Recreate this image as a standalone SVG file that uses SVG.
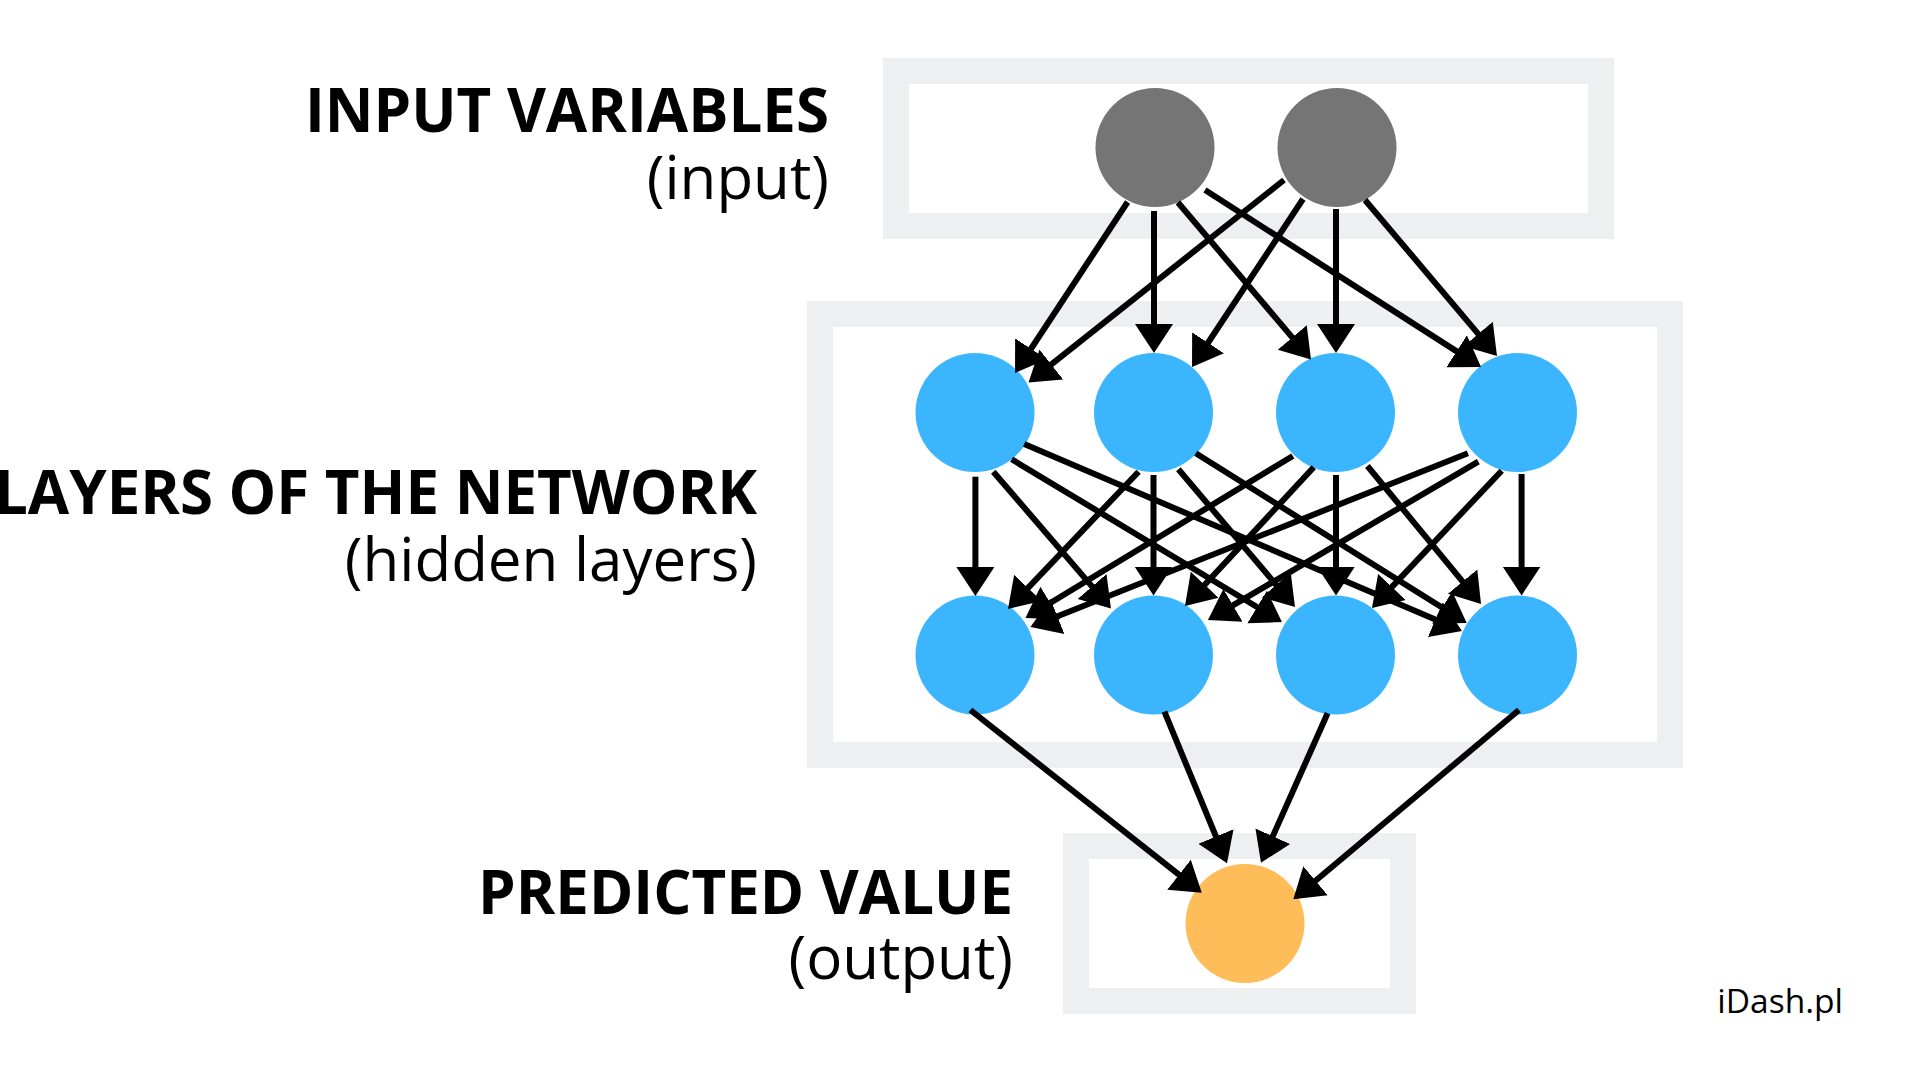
<svg xmlns="http://www.w3.org/2000/svg" width="1920" height="1080" viewBox="0 0 1920 1080">
<style>
.box{fill:none;stroke:#EEEFF1;stroke-width:26}
.in{fill:#757575}
.hid{fill:#3BB6FE}
.out{fill:#FEBD59}
.e{stroke:#000;stroke-width:6;fill:none;marker-end:url(#ah)}
.t1{font-family:"Open Sans","Liberation Sans",sans-serif;font-weight:700;font-size:60px;fill:#000;text-anchor:end}
.t2{font-family:"Open Sans","Liberation Sans",sans-serif;font-weight:400;font-size:60px;fill:#000;text-anchor:end}
.wm{font-family:"Open Sans","Liberation Sans",sans-serif;font-size:33.5px;fill:#000;text-anchor:end}
</style>
<defs>
<marker id="ah" markerUnits="userSpaceOnUse" markerWidth="30" markerHeight="40" viewBox="0 0 30 40" refX="14" refY="20" orient="auto">
<path d="M0,1 L29,20 L0,39 z" fill="#000"/>
</marker>
</defs>
<rect width="1920" height="1080" fill="#fff"/>
<g id="layer-boxes">
<rect id="box-input" class="box" x="896" y="71" width="705" height="155"/>
<rect id="box-hidden" class="box" x="820" y="314" width="850" height="441"/>
<rect id="box-output" class="box" x="1076" y="846" width="327" height="155"/>
</g>
<g id="labels">
<g id="label-input"><text class="t1" x="829" y="132">INPUT VARIABLES</text><text class="t2" x="829" y="199">(input)</text></g>
<g id="label-hidden"><text class="t1" x="757" y="514">LAYERS OF THE NETWORK</text><text class="t2" x="757" y="581">(hidden layers)</text></g>
<g id="label-output"><text class="t1" x="1013" y="914">PREDICTED VALUE</text><text class="t2" x="1013" y="979">(output)</text></g>
</g>
<g id="nodes">
<g id="in1"><circle class="in" cx="1155" cy="147.5" r="59.5"/></g>
<g id="in2"><circle class="in" cx="1337" cy="147.5" r="59.5"/></g>
<g id="h1a"><circle class="hid" cx="975" cy="412.5" r="59.5"/></g>
<g id="h1b"><circle class="hid" cx="1153.5" cy="412.5" r="59.5"/></g>
<g id="h1c"><circle class="hid" cx="1335.5" cy="412.5" r="59.5"/></g>
<g id="h1d"><circle class="hid" cx="1517.5" cy="412.5" r="59.5"/></g>
<g id="h2a"><circle class="hid" cx="975" cy="655" r="59.5"/></g>
<g id="h2b"><circle class="hid" cx="1153.5" cy="655" r="59.5"/></g>
<g id="h2c"><circle class="hid" cx="1335.5" cy="655" r="59.5"/></g>
<g id="h2d"><circle class="hid" cx="1517.5" cy="655" r="59.5"/></g>
<g id="out"><circle class="out" cx="1245" cy="923.5" r="59.5"/></g>
</g>
<g id="connectors">
<path class="e" d="M1127.6,202 L1023.3,360.5"/>
<path class="e" d="M1154,211 L1154,338"/>
<path class="e" d="M1178,202.5 L1301.3,348.1"/>
<path class="e" d="M1205,190 L1468.4,358.9"/>
<path class="e" d="M1284,180 L1040.3,373.2"/>
<path class="e" d="M1303,199 L1200.3,354.5"/>
<path class="e" d="M1336,209 L1336,338"/>
<path class="e" d="M1365,200 L1487.3,344.6"/>
<path class="e" d="M975.4,476.7 L975.4,581"/>
<path class="e" d="M993.3,471.7 L1101.2,597.1"/>
<path class="e" d="M1011.7,459.3 L1269.1,614.3"/>
<path class="e" d="M1024.2,444 L1448.2,625.1"/>
<path class="e" d="M1138.6,471.7 L1018.3,598.1"/>
<path class="e" d="M1153.5,475 L1153.5,580.5"/>
<path class="e" d="M1178.4,469.3 L1285.3,595.6"/>
<path class="e" d="M1195.8,453.3 L1454,615"/>
<path class="e" d="M1292.8,456 L1038.3,610.2"/>
<path class="e" d="M1313.7,467.3 L1195.2,595"/>
<path class="e" d="M1336,475 L1336,580.5"/>
<path class="e" d="M1367.4,466 L1471.5,592.4"/>
<path class="e" d="M1467.9,453.3 L1044.4,621.5"/>
<path class="e" d="M1478.3,461.7 L1220.9,612.4"/>
<path class="e" d="M1501.7,470.7 L1382.3,597.1"/>
<path class="e" d="M1521.6,474 L1521.6,580.5"/>
<path class="e" d="M970.4,710 L1190,883.4"/>
<path class="e" d="M1164.4,711.7 L1221.3,849.4"/>
<path class="e" d="M1327.6,713.3 L1267.1,849"/>
<path class="e" d="M1519,710 L1304.8,889.7"/>
</g>
<text class="wm" x="1843" y="1013">iDash.pl</text>
</svg>
